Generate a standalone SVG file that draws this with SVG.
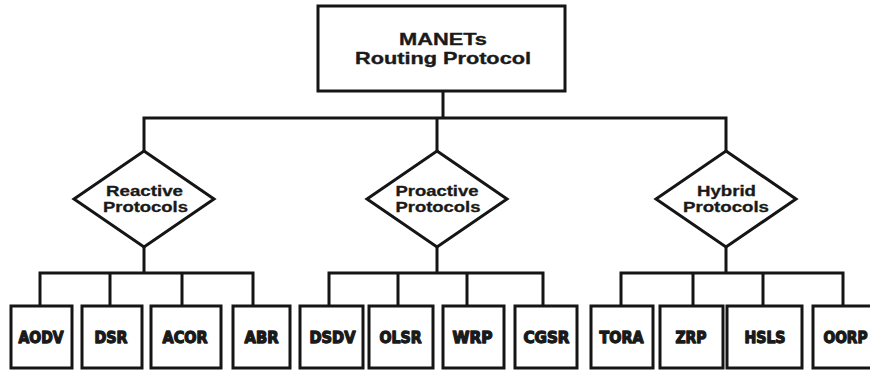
<svg xmlns="http://www.w3.org/2000/svg" width="870" height="370" viewBox="0 0 870 370">
  <style>
    .box { fill: #ffffff; stroke: #151515; stroke-width: 3; }
    .wire { fill: none; stroke: #151515; stroke-width: 3; stroke-linejoin: miter; stroke-linecap: square; }
    .head { font-family: "Liberation Sans", Arial, sans-serif; font-weight: bold; font-size: 16.5px; fill: #1a1a1a; text-anchor: middle; stroke: #1a1a1a; stroke-width: 0.35; }
    .cat { font-family: "Liberation Sans", Arial, sans-serif; font-weight: bold; font-size: 14px; fill: #1a1a1a; text-anchor: middle; stroke: #1a1a1a; stroke-width: 0.3; }
    .leaf { font-family: "Liberation Sans Narrow", "DejaVu Sans Condensed", "Liberation Sans", sans-serif; font-weight: bold; font-size: 16.5px; fill: #1a1a1a; stroke: #1a1a1a; stroke-width: 1.3; stroke-linejoin: round; text-anchor: middle; }
  </style>
  <rect width="870" height="370" fill="#ffffff"/>

  <!-- connectors -->
  <g id="connectors" class="wire">
    <path d="M443,91 V118 M144,118 H726 M144,118 V151 M437,118 V151 M726,118 V151"/>
    <!-- reactive branch -->
    <path d="M144,247 V273 M40,273 H253 M40,273 V306 M110,273 V306 M182,273 V306 M253,273 V306"/>
    <!-- proactive branch -->
    <path d="M437,247 V273 M329,273 H543 M329,273 V306 M398,273 V306 M467,273 V306 M543,273 V306"/>
    <!-- hybrid branch -->
    <path d="M726,247 V273 M621,273 H843 M621,273 V306 M693,273 V306 M763,273 V306 M843,273 V306"/>
  </g>

  <!-- root -->
  <g id="root">
    <rect class="box" x="318" y="6" width="247" height="85"/>
    <text class="head" x="443" y="45" textLength="88" lengthAdjust="spacingAndGlyphs">MANETs</text>
    <text class="head" x="443" y="64" textLength="176" lengthAdjust="spacingAndGlyphs">Routing Protocol</text>
  </g>

  <!-- protocol categories -->
  <g id="reactive">
    <polygon class="box" points="144,151 214,199 144,247 74,199"/>
    <text class="cat" x="144.5" y="196" textLength="77" lengthAdjust="spacingAndGlyphs">Reactive</text>
    <text class="cat" x="145.5" y="212" textLength="85" lengthAdjust="spacingAndGlyphs">Protocols</text>
  </g>
  <g id="proactive">
    <polygon class="box" points="437,151 507,199 437,247 367,199"/>
    <text class="cat" x="437" y="196" textLength="83" lengthAdjust="spacingAndGlyphs">Proactive</text>
    <text class="cat" x="438" y="212" textLength="85" lengthAdjust="spacingAndGlyphs">Protocols</text>
  </g>
  <g id="hybrid">
    <polygon class="box" points="726,151 796,199 726,247 656,199"/>
    <text class="cat" x="726.5" y="196" textLength="59" lengthAdjust="spacingAndGlyphs">Hybrid</text>
    <text class="cat" x="726" y="212" textLength="86" lengthAdjust="spacingAndGlyphs">Protocols</text>
  </g>

  <!-- reactive protocols -->
  <g id="aodv"><rect class="box" x="11" y="306" width="61" height="62"/><text class="leaf" x="41" y="343" textLength="45" lengthAdjust="spacingAndGlyphs">AODV</text></g>
  <g id="dsr"><rect class="box" x="82" y="306" width="60" height="62"/><text class="leaf" x="111" y="343" textLength="33" lengthAdjust="spacingAndGlyphs">DSR</text></g>
  <g id="acor"><rect class="box" x="151" y="306" width="70" height="62"/><text class="leaf" x="185" y="343" textLength="45" lengthAdjust="spacingAndGlyphs">ACOR</text></g>
  <g id="abr"><rect class="box" x="233" y="306" width="57" height="62"/><text class="leaf" x="261.5" y="343" textLength="34" lengthAdjust="spacingAndGlyphs">ABR</text></g>

  <!-- proactive protocols -->
  <g id="dsdv"><rect class="box" x="300" y="306" width="63" height="62"/><text class="leaf" x="332.5" y="343" textLength="46" lengthAdjust="spacingAndGlyphs">DSDV</text></g>
  <g id="olsr"><rect class="box" x="369" y="306" width="64" height="62"/><text class="leaf" x="400.5" y="343" textLength="42" lengthAdjust="spacingAndGlyphs">OLSR</text></g>
  <g id="wrp"><rect class="box" x="443" y="306" width="61" height="62"/><text class="leaf" x="472.5" y="343" textLength="40" lengthAdjust="spacingAndGlyphs">WRP</text></g>
  <g id="cgsr"><rect class="box" x="515" y="306" width="62" height="62"/><text class="leaf" x="546.5" y="343" textLength="46" lengthAdjust="spacingAndGlyphs">CGSR</text></g>

  <!-- hybrid protocols -->
  <g id="tora"><rect class="box" x="591" y="306" width="62" height="62"/><text class="leaf" x="621.5" y="343" textLength="44" lengthAdjust="spacingAndGlyphs">TORA</text></g>
  <g id="zrp"><rect class="box" x="660" y="306" width="63" height="62"/><text class="leaf" x="691" y="343" textLength="31" lengthAdjust="spacingAndGlyphs">ZRP</text></g>
  <g id="hsls"><rect class="box" x="727" y="306" width="75" height="62"/><text class="leaf" x="765" y="343" textLength="41" lengthAdjust="spacingAndGlyphs">HSLS</text></g>
  <g id="oorp"><rect class="box" x="813" y="306" width="62" height="62"/><text class="leaf" x="845.5" y="343" textLength="44" lengthAdjust="spacingAndGlyphs">OORP</text></g>
</svg>
